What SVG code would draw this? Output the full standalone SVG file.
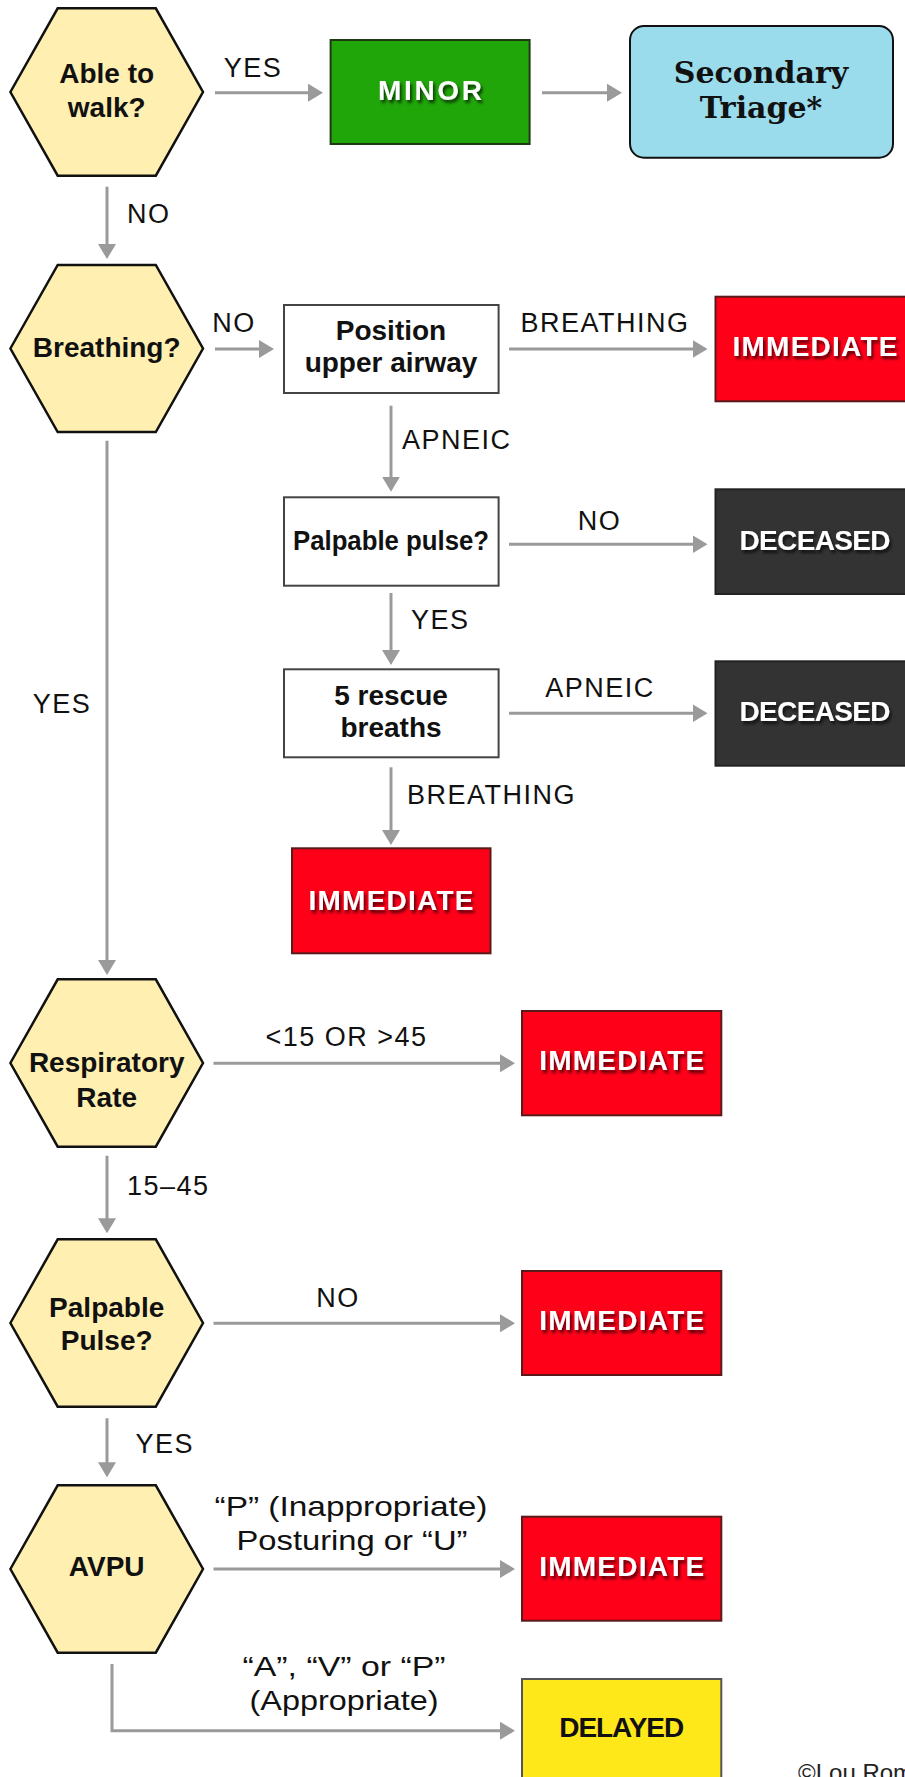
<svg xmlns="http://www.w3.org/2000/svg" width="905" height="1777" viewBox="0 0 905 1777">
<style>
.hex{fill:#FFEFB0;stroke:#111;stroke-width:2.5;stroke-linejoin:miter}
.box{fill:#fff;stroke:#444;stroke-width:2}
.imm{fill:#FF0019;stroke:#5a1a1a;stroke-width:2}
.dec{fill:#333333;stroke:#222;stroke-width:2}
.min{fill:#21A60A;stroke:#1f3a12;stroke-width:2}
.del{fill:#FFE81A;stroke:#555;stroke-width:2}
.sec{fill:#9ADCEC;stroke:#111;stroke-width:2}
.nt{font-family:"Liberation Sans",Arial,sans-serif;font-weight:bold;font-size:28px;fill:#111;text-anchor:middle}
.wt{font-family:"Liberation Sans",Arial,sans-serif;font-weight:bold;font-size:28px;fill:#fff;text-anchor:middle;filter:url(#sh)}
.lb{font-family:"Liberation Sans",Arial,sans-serif;font-size:27px;fill:#111;letter-spacing:1.5px}
.lc{font-family:"Liberation Sans",Arial,sans-serif;font-size:28px;fill:#111;text-anchor:middle}
.mid{text-anchor:middle}
.st{text-anchor:start}
.ser{font-family:"DejaVu Serif","Liberation Serif",serif;font-weight:bold;font-size:30px;fill:#111;text-anchor:middle}
.cn line,.cn polyline{stroke:#9A9A9A;stroke-width:3;fill:none;marker-end:url(#ah)}
</style>
<defs>
<marker id="ah" markerUnits="userSpaceOnUse" markerWidth="15" markerHeight="18" refX="12" refY="9" orient="auto">
<path d="M0,0 L15,9 L0,18 z" fill="#9A9A9A"/>
</marker>
<filter id="sh" x="-10%" y="-30%" width="130%" height="170%">
<feDropShadow dx="2" dy="3" stdDeviation="1.5" flood-color="#000" flood-opacity="0.65"/>
</filter>
</defs>
<rect width="905" height="1777" fill="#fff"/>

<g class="cn" id="connectors">
<line x1="215" y1="92.7" x2="320" y2="92.7"/>
<line x1="542" y1="92.7" x2="619" y2="92.7"/>
<line x1="107" y1="186.7" x2="107" y2="256"/>
<line x1="215" y1="349" x2="271" y2="349"/>
<line x1="509" y1="349" x2="704.5" y2="349"/>
<line x1="391" y1="405.7" x2="391" y2="488.7"/>
<line x1="509" y1="544.3" x2="704.5" y2="544.3"/>
<line x1="391" y1="593" x2="391" y2="662"/>
<line x1="509" y1="713.3" x2="704.5" y2="713.3"/>
<line x1="391" y1="767.3" x2="391" y2="842"/>
<line x1="107" y1="440.7" x2="107" y2="972"/>
<line x1="213.5" y1="1063.3" x2="512" y2="1063.3"/>
<line x1="107" y1="1155.7" x2="107" y2="1230.3"/>
<line x1="213.5" y1="1323.3" x2="512" y2="1323.3"/>
<line x1="107" y1="1418.3" x2="107" y2="1474.3"/>
<line x1="213.5" y1="1569" x2="512" y2="1569"/>
<polyline points="112,1664 112,1730.7 512,1730.7"/>
</g>

<g id="labels">
<text class="lb mid" x="253" y="77">YES</text>
<text class="lb st" x="127" y="223">NO</text>
<text class="lb mid" x="234" y="331.7">NO</text>
<text class="lb mid" x="605" y="331.7">BREATHING</text>
<text class="lb st" x="402" y="449.3">APNEIC</text>
<text class="lb mid" x="599.5" y="530">NO</text>
<text class="lb st" x="411" y="629.3">YES</text>
<text class="lb mid" x="600" y="696.7">APNEIC</text>
<text class="lb st" x="407" y="804">BREATHING</text>
<text class="lb mid" x="62" y="713.3">YES</text>
<text class="lb mid" x="346.5" y="1046">&lt;15 OR &gt;45</text>
<text class="lb st" x="127" y="1195">15–45</text>
<text class="lb mid" x="338" y="1306.7">NO</text>
<text class="lb st" x="135.6" y="1452.7">YES</text>
<text class="lc" x="351" y="1516" textLength="273" lengthAdjust="spacingAndGlyphs">“P” (Inappropriate)</text>
<text class="lc" x="352" y="1550" textLength="231" lengthAdjust="spacingAndGlyphs">Posturing or “U”</text>
<text class="lc" x="344" y="1676" textLength="203" lengthAdjust="spacingAndGlyphs">“A”, “V” or “P”</text>
<text class="lc" x="344" y="1710" textLength="189" lengthAdjust="spacingAndGlyphs">(Appropriate)</text>
</g>

<g id="n-walk">
<polygon class="hex" points="10.4,92 57.7,8.3 155.8,8.3 203,92 155.8,175.7 57.7,175.7"/>
<text class="nt" x="106.7" y="83.3">Able to</text>
<text class="nt" x="106.7" y="116.7">walk?</text>
</g>
<g id="n-minor">
<rect class="min" x="330.6" y="40" width="199" height="104"/>
<text class="wt" x="430" y="100" textLength="104">MINOR</text>
</g>
<g id="n-secondary">
<rect class="sec" x="630" y="26" width="263" height="131.7" rx="14"/>
<text class="ser" x="761" y="83.3">Secondary</text>
<text class="ser" x="761" y="118.3">Triage*</text>
</g>
<g id="n-breathing">
<polygon class="hex" points="10.4,348.5 57.7,265 155.8,265 203,348.5 155.8,432 57.7,432"/>
<text class="nt" x="106.7" y="356.7">Breathing?</text>
</g>
<g id="n-position">
<rect class="box" x="284" y="305" width="214.6" height="88"/>
<text class="nt" x="391" y="340">Position</text>
<text class="nt" x="391" y="371.7">upper airway</text>
</g>
<g id="n-imm1">
<rect class="imm" x="715.5" y="296.7" width="199" height="104.6"/>
<text class="wt" x="815" y="356" textLength="165">IMMEDIATE</text>
</g>
<g id="n-pulse1">
<rect class="box" x="284" y="497.3" width="214.6" height="88.4"/>
<text class="nt" x="391" y="550" textLength="196" lengthAdjust="spacingAndGlyphs">Palpable pulse?</text>
</g>
<g id="n-dec1">
<rect class="dec" x="715.5" y="489.3" width="199" height="104.7"/>
<text class="wt" x="815" y="550" textLength="151">DECEASED</text>
</g>
<g id="n-rescue">
<rect class="box" x="284" y="669.3" width="214.6" height="88"/>
<text class="nt" x="391" y="705">5 rescue</text>
<text class="nt" x="391" y="736.7">breaths</text>
</g>
<g id="n-dec2">
<rect class="dec" x="715.5" y="661.3" width="199" height="104.4"/>
<text class="wt" x="815" y="720.7" textLength="151">DECEASED</text>
</g>
<g id="n-imm2">
<rect class="imm" x="292" y="848.3" width="198.5" height="105"/>
<text class="wt" x="391" y="910" textLength="165">IMMEDIATE</text>
</g>
<g id="n-resp">
<polygon class="hex" points="10.4,1063 57.7,979.3 155.8,979.3 203,1063 155.8,1146.7 57.7,1146.7"/>
<text class="nt" x="106.7" y="1071.7">Respiratory</text>
<text class="nt" x="106.7" y="1106.7">Rate</text>
</g>
<g id="n-imm3">
<rect class="imm" x="522" y="1011" width="199.3" height="104.3"/>
<text class="wt" x="621.7" y="1070" textLength="165">IMMEDIATE</text>
</g>
<g id="n-pulse2">
<polygon class="hex" points="10.4,1323 57.7,1239.3 155.8,1239.3 203,1323 155.8,1406.7 57.7,1406.7"/>
<text class="nt" x="106.7" y="1316.7">Palpable</text>
<text class="nt" x="106.7" y="1350">Pulse?</text>
</g>
<g id="n-imm4">
<rect class="imm" x="522" y="1271" width="199.3" height="104"/>
<text class="wt" x="621.7" y="1330" textLength="165">IMMEDIATE</text>
</g>
<g id="n-avpu">
<polygon class="hex" points="10.4,1569 57.7,1485.3 155.8,1485.3 203,1569 155.8,1652.7 57.7,1652.7"/>
<text class="nt" x="106.7" y="1576">AVPU</text>
</g>
<g id="n-imm5">
<rect class="imm" x="522" y="1516.7" width="199.3" height="104"/>
<text class="wt" x="621.7" y="1576" textLength="165">IMMEDIATE</text>
</g>
<g id="n-delayed">
<rect class="del" x="522" y="1679" width="199.3" height="104"/>
<text class="nt" x="621.7" y="1737.3" textLength="125">DELAYED</text>
</g>
<text x="798" y="1781" style="font-family:'Liberation Sans',Arial,sans-serif;font-size:24px;fill:#222">©Lou Romano</text>
</svg>
